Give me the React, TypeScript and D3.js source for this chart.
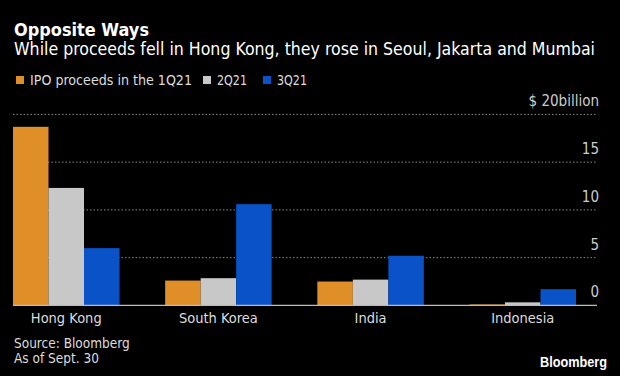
import React from "react";
import * as d3 from "d3";

const categories = ["Hong Kong", "South Korea", "India", "Indonesia"];
const seriesNames = ["IPO proceeds in the 1Q21", "2Q21", "3Q21"];
const q1Values = [18.7, 2.6, 2.5, 0.1];
const q2Values = [12.3, 2.85, 2.7, 0.32];
const q3Values = [6.0, 10.6, 5.2, 1.7];
const yTicks = [0, 5, 10, 15, 20];
const colors = ["#e08e28", "#c8c8c8", "#0a52c8"];

const W = 620;
const H = 376;
const FONT = "'DejaVu Sans Condensed', 'DejaVu Sans', sans-serif";

export default function App() {
  const series = [q1Values, q2Values, q3Values];
  const x = d3.scaleBand<string>().domain(categories).range([13, 576]).paddingInner(0.3).paddingOuter(0);
  const xs = d3.scaleBand<number>().domain([0, 1, 2]).range([0, x.bandwidth()]).padding(0);
  const y = d3.scaleLinear().domain([0, 20]).range([305.4, 114.4]);
  const axisRight = 597;
  const legendX = [16, 203, 263];
  const legendW = [162, 30, 30];

  return (
    <svg width={W} height={H} style={{ position: "absolute", left: 0, top: 0, background: "#000" }} fontFamily={FONT}>
      <rect x={0} y={0} width={W} height={H} fill="#000" />
      <text x={14} y={36} fill="#fff" fontSize={17} fontWeight="bold" textLength={135} lengthAdjust="spacingAndGlyphs">Opposite Ways</text>
      <text x={14} y={55} fill="#fff" fontSize={17.5} textLength={581} lengthAdjust="spacingAndGlyphs">While proceeds fell in Hong Kong, they rose in Seoul, Jakarta and Mumbai</text>
      {seriesNames.map((n, i) => (
        <g key={"lg" + i}>
          <rect x={legendX[i]} y={76} width={8} height={8} fill={colors[i]} />
          <text x={legendX[i] + 14} y={85} fill="#ddd" fontSize={14.5} textLength={legendW[i]} lengthAdjust="spacingAndGlyphs">{n}</text>
        </g>
      ))}
      {yTicks.filter(t => t > 0).map(t => (
        <line key={"g" + t} x1={13} x2={axisRight} y1={y(t)} y2={y(t)} stroke="#888" strokeWidth={1} strokeDasharray="1.5,2" />
      ))}
      {yTicks.map(t => (
        <text key={"yt" + t} x={599} y={y(t) - 8} fill="#ccc" fontSize={15} textAnchor="end">
          {t === 20 ? "$ 20billion" : String(t)}
        </text>
      ))}
      {categories.map((c, ci) => (
        <g key={c} transform={`translate(${x(c)},0)`}>
          {series.map((s, si) => (
            <rect key={si} x={xs(si)} y={y(s[ci])} width={xs.bandwidth()} height={y(0) - y(s[ci])} fill={colors[si]} />
          ))}
        </g>
      ))}
      <line x1={13} x2={axisRight} y1={y(0)} y2={y(0)} stroke="#bbb" strokeWidth={1.2} />
      {categories.map(c => (
        <text key={"xl" + c} x={(x(c) as number) + x.bandwidth() / 2} y={323} fill="#ddd" fontSize={14.5} textAnchor="middle">{c}</text>
      ))}
      <text x={14} y={348} fill="#ddd" fontSize={13.5}>Source: Bloomberg</text>
      <text x={14} y={363} fill="#ddd" fontSize={13.5}>As of Sept. 30</text>
      <text x={540} y={367} fill="#fff" fontSize={15} fontWeight="bold" textLength={67} lengthAdjust="spacingAndGlyphs" fontFamily="'Liberation Sans', Arial, sans-serif">Bloomberg</text>
    </svg>
  );
}
